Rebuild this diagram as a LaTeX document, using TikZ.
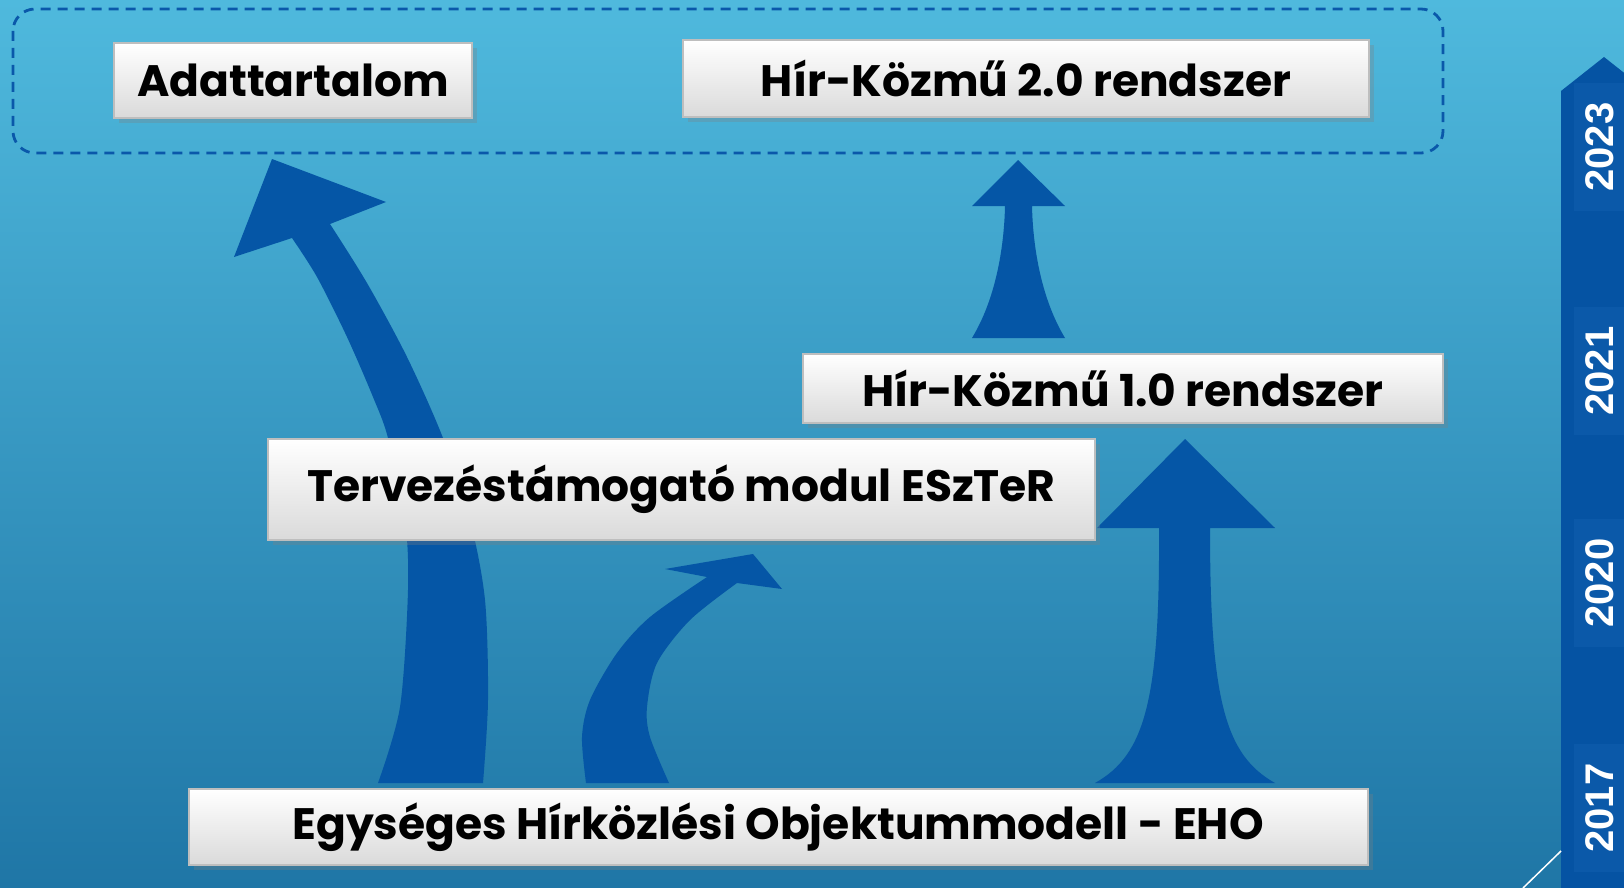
\documentclass[tikz,border=0pt]{standalone}
\usepackage{fontspec}
\setmainfont{Poppins}
\newfontfamily\yearfont{Liberation Sans}
\usetikzlibrary{shadows}
\definecolor{bgtop}{RGB}{79,185,221}
\definecolor{bgbottom}{RGB}{31,118,166}
\definecolor{arrowblue}{RGB}{5,86,166}
\definecolor{barblue}{RGB}{5,83,163}
\definecolor{yearblue}{RGB}{11,89,169}
\definecolor{dashblue}{RGB}{10,88,170}
\definecolor{boxline}{RGB}{190,190,190}
\definecolor{boxbottom}{RGB}{218,218,218}

\begin{document}
\begin{tikzpicture}[x=1pt,y=-1pt,
  box/.style={draw=boxline, line width=2pt, top color=white, bottom color=boxbottom,
    inner sep=0pt, font=\fontsize{44}{52}\selectfont\bfseries,
    drop shadow={shadow xshift=5pt, shadow yshift=-5pt, opacity=0.3}},
  blockarrow/.style={fill=arrowblue},
  year/.style={fill=yearblue, text=white, rotate=90, inner sep=0pt,
    minimum width=128pt, minimum height=52pt,
    font=\yearfont\fontsize{40}{46}\selectfont\bfseries}]
  \useasboundingbox (0,0) rectangle (1624,888);
  \shade[top color=bgtop, bottom color=bgbottom] (0,0) rectangle (1624,888);

  % dashed frame round the 2023 goals
  \draw[dashblue, line width=2.8pt, dash pattern=on 10pt off 7pt, rounded corners=22pt]
    (13,9) rectangle (1443,153);

  % arrows behind the boxes
  \fill[blockarrow] (378,783) -- plot[smooth] coordinates {(378,783) (400,707) (408,590)
      (405,520) (388,438) (373,397) (347,337) (317,277) (292,238)}
    -- (234,257) -- (272,159) -- (386,202) -- (330,224)
    -- plot[smooth] coordinates {(330,224) (367,283) (407,357) (443,438) (470,520)
      (485,600) (488,700) (483,783)} -- cycle;
  \fill[blockarrow] (586,783) -- plot[smooth] coordinates {(586,783) (582,737) (590,700)
      (617,653) (650,617) (707,577)}
    -- (665,569) -- (753,554) -- (782,589) -- (737,583)
    -- plot[smooth] coordinates {(737,583) (690,620) (657,663) (647,707) (650,737)
      (669,783)} -- cycle;
  \fill[blockarrow] (1095,783) .. controls (1145,755) and (1160,700) .. (1159,528)
    -- (1097,528) -- (1185,439) -- (1275,528) -- (1210,528)
    .. controls (1210,700) and (1225,755) .. (1275,783) -- cycle;
  \fill[blockarrow] (972,338) .. controls (995,300) and (1004,250) .. (1005,206)
    -- (972,206) -- (1018,160) -- (1065,206) -- (1032,206)
    .. controls (1033,250) and (1042,300) .. (1065,338) -- cycle;

  % boxes
  \node[box, minimum width=358pt, minimum height=75pt] (adat) at (293,80.5) {Adattartalom};
  \node[box, minimum width=686pt, minimum height=77pt] (hk2) at (1026,78.5) {Hír-Közmű 2.0 rendszer};
  \node[box, minimum width=640pt, minimum height=69pt] (hk1) at (1123,388.5) {Hír-Közmű 1.0 rendszer};
  \node[box, minimum width=827pt, minimum height=101pt] (eszter) at (681.5,489.5) {Tervezéstámogató modul ESzTeR};
  \node[box, minimum width=1179pt, minimum height=76pt] (eho) at (778,827) {Egységes Hírközlési Objektummodell - EHO};

  % timeline
  \fill[barblue] (1561,888) -- (1561,91) -- (1604,57) -- (1647,91) -- (1647,888) -- cycle;
  \node[year] (y2023) at (1600,147) {2023};
  \node[year] (y2021) at (1600,371) {2021};
  \node[year] (y2020) at (1600,583) {2020};
  \node[year] (y2017) at (1600,808) {2017};
  \coordinate (tick) at (1523,888);
  \draw[white, line width=1.5pt] (tick) -- (1561,851);
\end{tikzpicture}
\end{document}
